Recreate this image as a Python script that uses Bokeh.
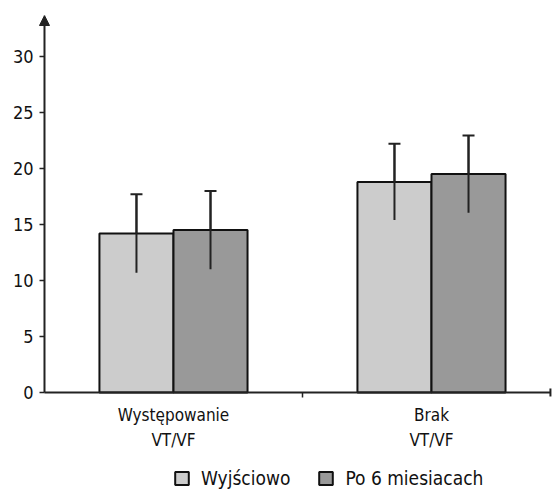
from bokeh.plotting import figure
from bokeh.models import (Range1d, LinearAxis, FixedTicker, Legend, LegendItem,
                          Arrow, NormalHead, TeeHead, Whisker, ColumnDataSource)
from bokeh.embed import file_html
from bokeh.resources import INLINE
import numpy as np

# ---- data ----
categories = ["Występowanie\nVT/VF", "Brak\nVT/VF"]
series_names = ["Wyjściowo", "Po 6 miesiacach"]
baseline_vals = [14.2, 18.8]
after6_vals = [14.5, 19.5]
baseline_err = [3.5, 3.4]
after6_err = [3.5, 3.45]
y_ticks = [0, 5, 10, 15, 20, 25, 30]

FONT = "DejaVu Sans Condensed"
colors = ["#cccccc", "#999999"]
AX = "#222222"

n = len(categories)
centers = np.arange(n) + 0.5
bw = 0.287
x_start = -0.1705
x_axis_end = 1.961
x_end = 1.969
y_end = 33.66
y_start = -9.02

p = figure(width=552, height=493, output_backend="svg", toolbar_location=None,
           x_range=Range1d(x_start, x_end), y_range=Range1d(y_start, y_end),
           x_axis_type=None, y_axis_type=None,
           min_border_left=0, min_border_right=0, min_border_top=15, min_border_bottom=0)
p.outline_line_color = None
p.xgrid.visible = False
p.ygrid.visible = False

yax = LinearAxis(ticker=FixedTicker(ticks=y_ticks, minor_ticks=[]), fixed_location=0)
yax.axis_line_color = None
yax.major_tick_line_color = AX
yax.major_tick_line_width = 1.5
yax.major_tick_out = 5
yax.major_tick_in = 0
yax.minor_tick_line_color = None
yax.major_label_text_font = FONT
yax.major_label_text_font_size = "18px"
yax.major_label_text_color = "#111111"
yax.major_label_standoff = 6
p.add_layout(yax, "left")

xax = LinearAxis(ticker=FixedTicker(ticks=list(centers), minor_ticks=[1.0]), fixed_location=0)
xax.axis_line_color = None
xax.major_tick_line_color = None
xax.major_tick_out = 5
xax.major_tick_in = 0
xax.minor_tick_line_color = AX
xax.minor_tick_line_width = 1.5
xax.minor_tick_out = 5
xax.minor_tick_in = 0
xax.major_label_overrides = {float(c): lab for c, lab in zip(centers, categories)}
xax.major_label_text_font = FONT
xax.major_label_text_font_size = "17px"
xax.major_label_text_color = "#111111"
xax.major_label_text_line_height = 1.25
xax.major_label_standoff = 8
p.add_layout(xax, "below")

renderers = []
for i, (vals, errs) in enumerate([(baseline_vals, baseline_err), (after6_vals, after6_err)]):
    xs = centers + (i - 0.5) * bw
    vals = np.array(vals)
    errs = np.array(errs)
    src = ColumnDataSource(dict(x=xs, top=vals, lo=vals - errs, hi=vals + errs))
    r = p.vbar(x="x", top="top", width=bw, bottom=0, source=src,
               fill_color=colors[i], line_color="#111111", line_width=2)
    renderers.append(r)
    p.segment(x0="x", y0="lo", x1="x", y1="hi", source=src, line_color="#222222", line_width=2)
    w = Whisker(base="x", upper="hi", lower="lo", source=src, dimension="height",
                line_color="#222222", line_width=2)
    w.upper_head = TeeHead(size=12, line_color="#222222", line_width=2)
    w.lower_head = None
    p.add_layout(w)

# y axis line with arrow head
p.add_layout(Arrow(end=NormalHead(size=10, fill_color=AX, line_color=AX),
                   x_start=0, y_start=0, x_end=0, y_end=y_end,
                   line_color=AX, line_width=2))
# x axis line with small end tick
p.add_layout(Arrow(end=TeeHead(size=8, line_color=AX, line_width=2),
                   x_start=0, y_start=0, x_end=x_axis_end, y_end=0,
                   line_color=AX, line_width=2))

legend = Legend(items=[LegendItem(label=series_names[k], renderers=[renderers[k]]) for k in range(2)],
                orientation="horizontal", location=(173, 4),
                glyph_width=17, glyph_height=16, label_standoff=11, spacing=27,
                padding=0, margin=0, border_line_alpha=0, background_fill_alpha=0,
                label_text_font=FONT, label_text_font_size="19px", label_text_color="#111111",
                label_height=16)
p.add_layout(legend, "center")

open("out.html", "w").write(file_html(p, INLINE))
